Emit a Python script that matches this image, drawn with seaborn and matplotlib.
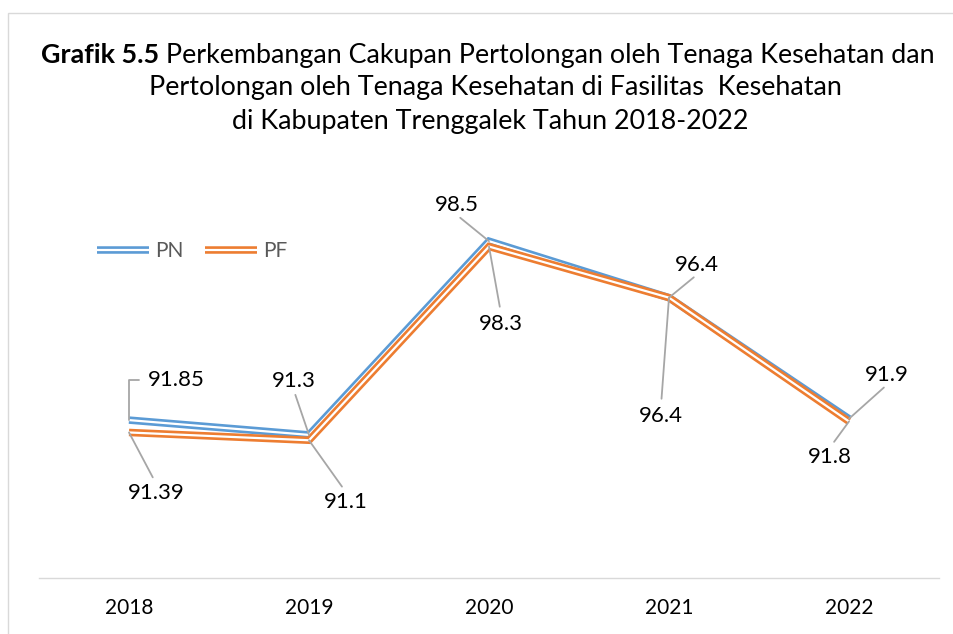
"""Line chart: coverage of deliveries by health workers, Trenggalek 2018-2022."""

import matplotlib
matplotlib.use("Agg")
import matplotlib.pyplot as plt
import matplotlib.patheffects as pe
from matplotlib.patches import Rectangle
import seaborn as sns
import pandas as pd

# Data
years = ["2018", "2019", "2020", "2021", "2022"]
pn_values = [91.85, 91.3, 98.5, 96.4, 91.9]
pf_values = [91.39, 91.1, 98.3, 96.4, 91.8]
pn_labels = ["91.85", "91.3", "98.5", "96.4", "91.9"]
pf_labels = ["91.39", "91.1", "98.3", "96.4", "91.8"]
series_names = ["PN", "PF"]

# Label placement (text offset from point in pixels, y up)
pn_offsets = [(47, 40), (-15, 54), (-32, 36), (28, 33), (38, 44)]
pf_offsets = [(27, -61), (37, -62), (12, -77), (-8, -118), (-19, -36)]

COLORS = {"PN": "#5B9BD5", "PF": "#ED7D31"}
LEADER = "#A6A6A6"
FONT = "Lato"

sns.set_style("white")
plt.rcParams["font.family"] = [FONT, "DejaVu Sans"]

W, H = 954, 634
fig = plt.figure(figsize=(W / 100, H / 100), dpi=100)
ax = fig.add_axes([39 / W, (H - 577.5) / H, 900 / W, 376.7 / H])

df = pd.DataFrame({
    "year": years * 2,
    "value": pn_values + pf_values,
    "series": ["PN"] * len(years) + ["PF"] * len(years),
})

# Double ("compound") lines: coloured stroke with a thin white core
for name in series_names:
    sub = df[df["series"] == name]
    sns.lineplot(
        data=sub, x="year", y="value", ax=ax, sort=False,
        color="white", lw=1.6, label=name,
        solid_joinstyle="miter", solid_capstyle="butt",
        path_effects=[
            pe.Stroke(linewidth=5.4, foreground=COLORS[name],
                      joinstyle="miter", capstyle="butt"),
            pe.Normal(),
        ],
    )

ax.set_xlim(-0.5, len(years) - 0.5)
ax.set_ylim(86, 100)
ax.set_xlabel("")
ax.set_ylabel("")
ax.set_yticks([])
ax.tick_params(axis="x", length=0, pad=15, labelsize=15, labelcolor="#000000")
for side in ["top", "left", "right"]:
    ax.spines[side].set_visible(False)
ax.spines["bottom"].set_color("#D9D9D9")
ax.spines["bottom"].set_linewidth(1.0)


def add_labels(values, labels, offsets, elbow_first=False):
    for i, (v, lab, (dx, dy)) in enumerate(zip(values, labels, offsets)):
        if elbow_first and i == 0:
            arrow = dict(arrowstyle="-", color=LEADER, lw=1.3, patchA=None,
                         shrinkA=6, shrinkB=0, relpos=(0, 0.5),
                         connectionstyle="angle,angleA=0,angleB=90,rad=0")
        else:
            above = dy > 0
            arrow = dict(arrowstyle="-", color=LEADER, lw=1.3, patchA=None,
                         shrinkA=3 if above else 5, shrinkB=0,
                         relpos=(0.5, 0) if above else (0.5, 1))
        ax.annotate(lab, xy=(i, v), xytext=(dx, dy), textcoords="offset pixels",
                    ha="center", va="center", fontsize=16, color="#000000",
                    arrowprops=arrow, annotation_clip=False)


add_labels(pn_values, pn_labels, pn_offsets, elbow_first=True)
add_labels(pf_values, pf_labels, pf_offsets)

ax.legend(handles=ax.lines[:2], labels=series_names, ncol=2, frameon=False,
          loc="center left", bbox_to_anchor=(97 / W, 1 - 251 / H),
          bbox_transform=fig.transFigure, fontsize=15, labelcolor="#595959",
          handlelength=2.5, handletextpad=0.3, columnspacing=1.0,
          borderpad=0, borderaxespad=0)

# Title: bold lead-in followed by regular text on the first line
TITLE_SIZE = 19.4
title_bold = "Grafik 5.5"
title_lines = [
    " Perkembangan Cakupan Pertolongan oleh Tenaga Kesehatan dan",
    "Pertolongan oleh Tenaga Kesehatan di Fasilitas  Kesehatan",
    "di Kabupaten Trenggalek Tahun 2018-2022",
]
title_y = [55, 88, 122]
title_x = [488, 495, 490]

renderer = fig.canvas.get_renderer()
t_bold = fig.text(0, 1 - title_y[0] / H, title_bold, ha="left", va="center",
                  fontsize=TITLE_SIZE, fontweight="bold", color="#000000")
t_rest = fig.text(0, 1 - title_y[0] / H, title_lines[0], ha="left", va="center",
                  fontsize=TITLE_SIZE, color="#000000")
wb = t_bold.get_window_extent(renderer).width
wr = t_rest.get_window_extent(renderer).width
x0 = title_x[0] - (wb + wr) / 2
t_bold.set_x(x0 / W)
t_rest.set_x((x0 + wb) / W)

for txt, tx, ty in zip(title_lines[1:], title_x[1:], title_y[1:]):
    fig.text(tx / W, 1 - ty / H, txt, ha="center", va="center",
             fontsize=TITLE_SIZE, color="#000000")

# Chart area border (cropped on right and bottom)
fig.patches.append(Rectangle((8 / W, -0.1), 1.2, (H - 13) / H + 0.1,
                             transform=fig.transFigure, fill=False,
                             edgecolor="#D9D9D9", lw=1.0))

fig.savefig("out.png", dpi=100)
